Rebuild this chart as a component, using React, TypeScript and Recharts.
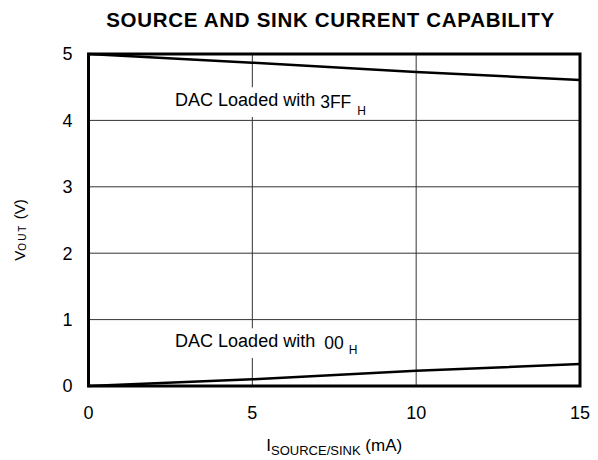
import React from 'react'
import { CartesianGrid, Label, Line, LineChart, ReferenceArea, XAxis, YAxis } from 'recharts'

// I source/sink (mA) and Vout (V)
const current = [0, 5, 10, 15]
const vout3FF = [5, 4.87, 4.73, 4.61]
const vout00 = [0, 0.1, 0.23, 0.33]
const xTicks = [0, 5, 10, 15]
const yTicks = [0, 1, 2, 3, 4, 5]

const data = current.map((c, i) => ({ current: c, full: vout3FF[i], zero: vout00[i] }))

const font = '"Liberation Sans", Arial, sans-serif'

const annotation = (code: string, dx: number, subDx: number, subDy: number) => (props: any) => {
    const { x, y } = props.viewBox
    return (
        <text x={x + 5} y={y + 19} fontFamily={font} fontSize={18} fill='#000'>
            DAC Loaded with
            <tspan dx={dx} dy={2} fontSize={17.5}>{code}</tspan>
            <tspan dx={subDx} dy={subDy} fontSize={12}>H</tspan>
        </text>
    )
}

const xLabel = (props: any) => {
    const { x, width } = props.viewBox
    return (
        <text x={x + width / 2} y={451} textAnchor='middle' fontFamily={font} fontSize={17} fill='#000'>
            I<tspan fontSize={13} dy={4}>SOURCE/SINK</tspan>
            <tspan dy={-4}> (mA)</tspan>
        </text>
    )
}

const yLabel = () => (
    <text x={25} y={230} transform='rotate(-90, 25, 230)' textAnchor='middle' fontFamily={font} fontSize={15} fill='#000'>
        V<tspan fontSize={10} letterSpacing={2} dy={1}>OUT</tspan>
        <tspan dy={-1}> (V)</tspan>
    </text>
)

export default function App() {
    return (
        <div style={{ position: 'absolute', left: 0, top: 0, width: 598, height: 460, background: '#fff' }}>
            <div style={{
                position: 'absolute', left: 0, width: 661, top: 10, textAlign: 'center',
                fontFamily: font, fontWeight: 'bold', fontSize: 20.5, letterSpacing: 0.7,
                lineHeight: '20px', whiteSpace: 'nowrap'
            }}>
                SOURCE AND SINK CURRENT CAPABILITY
            </div>
            <LineChart width={598} height={460} data={data} margin={{ top: 54, right: 18, bottom: 34, left: 28.5 }}>
                <CartesianGrid stroke='#333' strokeWidth={1} />
                <XAxis
                    dataKey='current' type='number' domain={[0, 15]} ticks={xTicks} height={40}
                    axisLine={false} tickLine={false} tickSize={0} tickMargin={20}
                    tick={{ fill: '#000', fontSize: 18, fontFamily: font }}
                >
                    <Label content={xLabel} />
                </XAxis>
                <YAxis
                    type='number' domain={[0, 5]} ticks={yTicks} width={60}
                    axisLine={false} tickLine={false} tickSize={0} tickMargin={16}
                    tick={{ fill: '#000', fontSize: 18, fontFamily: font }}
                >
                    <Label content={yLabel} />
                </YAxis>
                <ReferenceArea x1={2.49} x2={8.6} y1={4.05} y2={4.5} fill='#fff' fillOpacity={1} stroke='none'>
                    <Label content={annotation('3FF', 5, 6, 7)} />
                </ReferenceArea>
                <ReferenceArea x1={2.49} x2={8.6} y1={0.42} y2={0.87} fill='#fff' fillOpacity={1} stroke='none'>
                    <Label content={annotation('00', 9, 5, 5)} />
                </ReferenceArea>
                <Line dataKey='full' type='linear' stroke='#000' strokeWidth={2.5} dot={false} isAnimationActive={false} />
                <Line dataKey='zero' type='linear' stroke='#000' strokeWidth={2.5} dot={false} isAnimationActive={false} />
                <ReferenceArea x1={0} x2={15} y1={0} y2={5} fill='none' stroke='#000' strokeWidth={3} />
            </LineChart>
        </div>
    )
}
